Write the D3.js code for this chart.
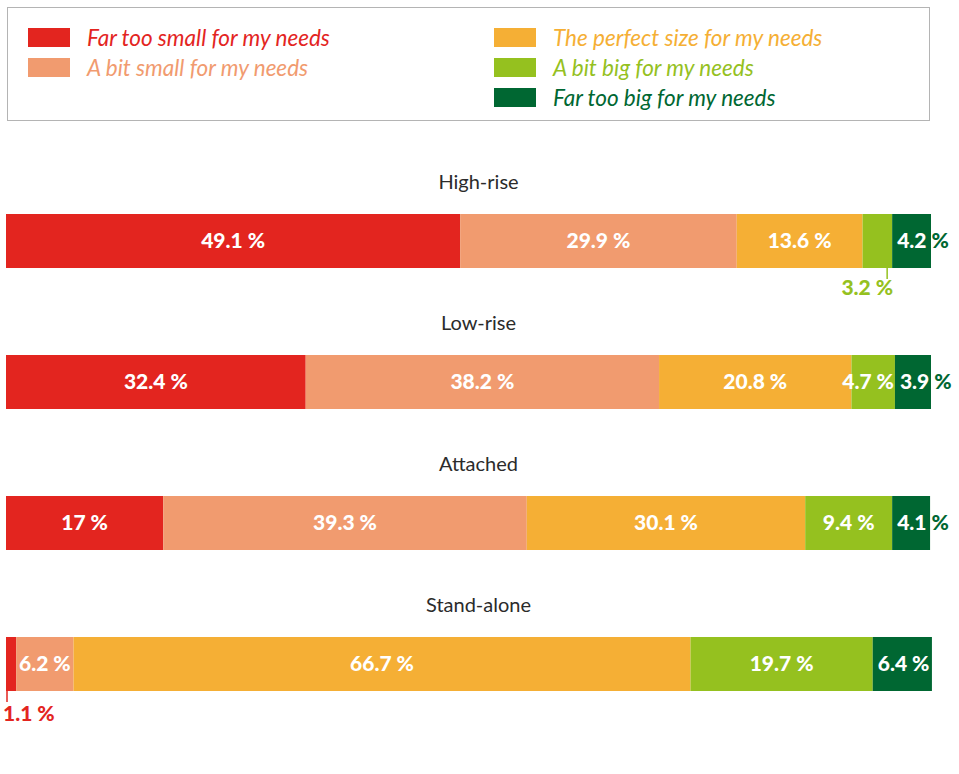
<!DOCTYPE html>
<html>
<head>
<meta charset="utf-8">
<script src="https://cdn.jsdelivr.net/npm/d3@7"></script>
<style>
  html, body { margin: 0; padding: 0; background: #fff; }
  svg { display: block; font-family: Lato, "Noto Sans", sans-serif; }
</style>
</head>
<body>
<svg id="chart" width="959" height="774"></svg>
<script>
// Dwelling types and answer categories
const categories = ["High-rise", "Low-rise", "Attached", "Stand-alone"];
const answers = [
  "Far too small for my needs",
  "A bit small for my needs",
  "The perfect size for my needs",
  "A bit big for my needs",
  "Far too big for my needs"
];
const answerColors = ["#e3251f", "#f19b6f", "#f5af35", "#95c11f", "#006732"];

// Share of respondents (%) per dwelling type, one array per answer
const farTooSmall = [49.1, 32.4, 17, 1.1];
const bitSmall    = [29.9, 38.2, 39.3, 6.2];
const perfectSize = [13.6, 20.8, 30.1, 66.7];
const bitBig      = [3.2, 4.7, 9.4, 19.7];
const farTooBig   = [4.2, 3.9, 4.1, 6.4];
const seriesValues = [farTooSmall, bitSmall, perfectSize, bitBig, farTooBig];

const svg = d3.select("#chart");

// ---- Legend ----
const legend = svg.append("g");
legend.append("rect")
  .attr("x", 7.5).attr("y", 7.5).attr("width", 922).attr("height", 113)
  .attr("fill", "#fff").attr("stroke", "#b4b4b4").attr("stroke-width", 1);

const legendCols = [[0, 1], [2, 3, 4]];
const colX = d3.scaleOrdinal().domain([0, 1]).range([28, 494]);
const rowY = d3.scalePoint().domain([0, 1, 2]).range([28, 88]);
legendCols.forEach((items, c) => {
  items.forEach((ai, r) => {
    const g = legend.append("g")
      .attr("transform", `translate(${colX(c)},${rowY(r)})`);
    g.append("rect").attr("width", 42).attr("height", 19).attr("fill", answerColors[ai]);
    g.append("text")
      .attr("x", 59).attr("y", 10).attr("dy", "0.35em")
      .attr("font-style", "italic").attr("font-size", 22.5)
      .attr("fill", answerColors[ai])
      .text(answers[ai]);
  });
});

// ---- Bars ----
const x = d3.scaleLinear().domain([0, 100]).range([6, 931]);
const y = d3.scaleBand().domain(categories).range([214, 691]).paddingInner(0.617).paddingOuter(0);
const bh = y.bandwidth();

const rows = categories.map((cat, i) => {
  let acc = 0;
  const segs = seriesValues.map((arr, k) => {
    const s = { key: k, value: arr[i], x0: acc, x1: acc + arr[i] };
    acc += arr[i];
    return s;
  });
  return { cat, i, segs };
});

const defs = svg.append("defs");
const labelSize = 21;

rows.forEach(row => {
  const top = y(row.cat);
  const g = svg.append("g");

  // category title
  g.append("text")
    .attr("x", (x(0) + x(100)) / 2 + 10).attr("y", top - 32)
    .attr("text-anchor", "middle").attr("dy", "0.35em")
    .attr("font-size", 20).attr("fill", "#2b2b2b")
    .text(row.cat);

  g.selectAll("rect.seg").data(row.segs).join("rect")
    .attr("class", "seg")
    .attr("x", d => x(d.x0))
    .attr("y", top)
    .attr("width", d => x(d.x1) - x(d.x0))
    .attr("height", bh)
    .attr("fill", d => answerColors[d.key]);

  const clipId = "clip-" + row.i;
  defs.append("clipPath").attr("id", clipId)
    .append("rect")
    .attr("x", x(0)).attr("y", top)
    .attr("width", x(100) - x(0)).attr("height", bh);

  const last = row.segs.length - 1;
  row.segs.forEach((d, k) => {
    const label = `${d.value} %`;
    const sx0 = x(d.x0), sx1 = x(d.x1);
    const cy = top + bh / 2;

    if (d.value < 3.5 && k !== last) {
      // narrow segment: label below the bar with a leader line
      const lx = k === 0 ? sx0 + 1 : sx1 - 5;
      g.append("line")
        .attr("x1", lx).attr("x2", lx)
        .attr("y1", top + bh).attr("y2", top + bh + 11)
        .attr("stroke", answerColors[d.key]).attr("stroke-width", 1.5);
      g.append("text")
        .attr("x", k === 0 ? sx0 - 3 : sx1 + 1)
        .attr("y", top + bh + (k === 0 ? 23 : 20)).attr("dy", "0.35em")
        .attr("text-anchor", k === 0 ? "start" : "end")
        .attr("font-size", labelSize).attr("font-weight", 900)
        .attr("fill", answerColors[d.key])
        .text(label);
      return;
    }

    let tx, anchor;
    if (k === last) { tx = sx0 + 5; anchor = "start"; }
    else { tx = (sx0 + sx1) / 2; anchor = "middle"; }

    // coloured copy (visible where text runs past the bar) + white copy clipped to the bar
    const base = g.append("text")
      .attr("x", tx).attr("y", cy).attr("dy", "0.35em")
      .attr("text-anchor", anchor)
      .attr("font-size", labelSize).attr("font-weight", 900)
      .attr("fill", answerColors[d.key])
      .text(label);
    const w = base.node().getComputedTextLength();
    if (k !== last && w > (sx1 - sx0) - 4) {
      tx = sx1 - 1; anchor = "end";
      base.attr("x", tx).attr("text-anchor", anchor);
    }
    g.append("text")
      .attr("x", tx).attr("y", cy).attr("dy", "0.35em")
      .attr("text-anchor", anchor)
      .attr("font-size", labelSize).attr("font-weight", 900)
      .attr("fill", "#fff")
      .attr("clip-path", `url(#${clipId})`)
      .text(label);
  });
});
</script>
</body>
</html>
